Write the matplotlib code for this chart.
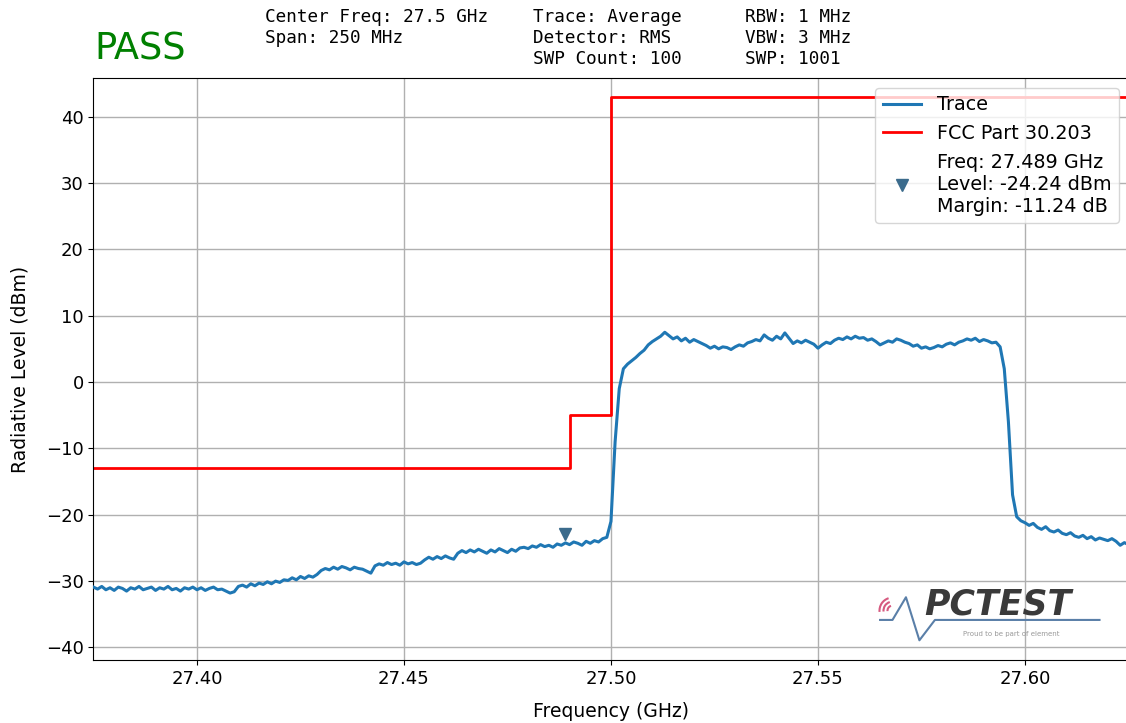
import numpy as np
import matplotlib
matplotlib.use("Agg")
from matplotlib import pyplot as plt
from matplotlib.lines import Line2D
from matplotlib.patches import Arc

# sweep settings / header text
header_cols = [
    ["Center Freq: 27.5 GHz", "Span: 250 MHz"],
    ["Trace: Average", "Detector: RMS", "SWP Count: 100"],
    ["RBW: 1 MHz", "VBW: 3 MHz", "SWP: 1001"],
]
verdict = "PASS"

# measured trace, 1 MHz step from 27.375 to 27.625 GHz (dBm)
f_start, f_stop = 27.375, 27.625
trace_dbm = [
    -30.9, -31.2, -30.8, -31.3, -31.0, -31.4, -30.9, -31.1, -31.5, -31.0,
    -31.2, -30.8, -31.3, -31.1, -30.9, -31.4, -31.0, -31.2, -30.8, -31.3,
    -31.1, -31.5, -31.0, -31.2, -30.9,
    -31.3, -31.0, -31.4, -31.1, -30.9, -31.3, -31.2, -31.5, -31.8, -31.6,
    -30.8, -30.6, -30.9, -30.4, -30.7, -30.3, -30.5, -30.1, -30.4, -30.0,
    -30.2, -29.8, -29.9, -29.5, -29.8, -29.3, -29.6, -29.2, -29.4, -29.0,
    -28.4, -28.1, -28.3, -27.9, -28.2, -27.8, -28.0, -28.3, -27.9, -28.1,
    -28.2, -28.5,
    -28.8,
    -27.7, -27.4, -27.6, -27.2, -27.5, -27.3, -27.6, -27.1, -27.4, -27.2,
    -27.5, -27.3,
    -26.8, -26.4, -26.7, -26.3, -26.6, -26.2, -26.5, -26.7,
    -25.8, -25.4, -25.7, -25.3, -25.6, -25.2, -25.5, -25.8, -25.3, -25.6,
    -25.1, -25.4, -25.7, -25.2, -25.5, -25.0,
    -24.9, -25.1, -24.7, -24.9, -24.5, -24.8, -24.6, -24.9,
    -24.4, -24.6, -24.24, -24.5, -24.1, -24.3, -24.6, -24.0,
    -24.3, -23.9, -24.1, -23.6, -23.4,
    -21.0, -9.0, -1.0, 2.0, 2.7, 3.2, 3.7, 4.3, 4.8, 5.6,
    6.1, 6.5, 6.9, 7.5, 7.0,
    6.5, 6.8, 6.2, 6.6, 6.0, 6.4, 6.1, 5.8, 5.5, 5.1,
    5.4, 5.0, 5.3, 5.2, 4.9, 5.3, 5.6, 5.4, 5.9, 6.1,
    6.4, 6.2, 7.1, 6.6, 6.3, 6.9, 6.5, 7.4, 6.6, 5.8,
    6.2, 5.9, 6.3, 6.0, 5.7, 5.1, 5.6, 6.0, 5.8, 6.3,
    6.6, 6.4, 6.8, 6.5, 6.9, 6.6, 6.7, 6.3, 6.5, 6.1,
    5.6, 5.9, 6.2, 6.0, 6.5, 6.3, 6.0, 5.8, 5.4, 5.6,
    5.1, 5.3, 5.0, 5.2, 5.5, 5.3, 5.7, 5.9, 5.6, 6.0,
    6.2, 6.5, 6.3, 6.6, 6.1, 6.4, 6.2, 5.9, 6.0, 5.3,
    2.0, -6.0, -17.0, -20.3,
    -20.9, -21.2, -21.6, -21.3, -21.9, -22.2, -21.8, -22.4, -22.6, -22.3,
    -22.8,
    -23.0, -22.7, -23.2, -23.4, -23.1, -23.6, -23.3, -23.8, -23.5, -23.7,
    -23.9, -23.6, -24.0, -24.6, -24.2, -24.5,
]
freq_ghz = np.linspace(f_start, f_stop, len(trace_dbm))

# FCC Part 30.203 limit mask (step)
limit_freq = [27.375, 27.490, 27.490, 27.500, 27.500, 27.625]
limit_dbm = [-13, -13, -5, -5, 43, 43]

# worst-case marker
mk_freq = 27.489
mk_level = -24.24
mk_margin = -11.24

fig = plt.figure(figsize=(11.26, 7.23), dpi=100)
ax = fig.add_axes([0.083, 0.087, 0.9192, 0.805])

ax.plot(freq_ghz, trace_dbm, color="#1f77b4", lw=2.2, label="Trace", zorder=3)
ax.plot(limit_freq, limit_dbm, color="red", lw=2, label="FCC Part 30.203", zorder=2)
ax.plot([mk_freq], [mk_level + 1.3], marker="v", ls="none", ms=8,
        color="#3b6b8c", zorder=4)

ax.set_xlim(f_start, f_stop)
ax.set_ylim(-41.9, 45.8)
ax.set_xticks([27.40, 27.45, 27.50, 27.55, 27.60])
ax.set_yticks(range(-40, 41, 10))
ax.grid(True, color="#b0b0b0", lw=1)
ax.tick_params(labelsize=13)
ax.set_xlabel("Frequency (GHz)", fontsize=13.5, labelpad=10)
ax.set_ylabel("Radiative Level (dBm)", fontsize=13.5, labelpad=12)

mk_handle = Line2D([], [], marker="v", ls="none", ms=8, color="#3b6b8c")
handles, labels = ax.get_legend_handles_labels()
handles.append(mk_handle)
labels.append("Freq: %.3f GHz\nLevel: %.2f dBm\nMargin: %.2f dB" % (mk_freq, mk_level, mk_margin))
ax.legend(handles, labels, loc="upper right", fontsize=13.8,
          bbox_to_anchor=(1.0, 1.0), borderaxespad=0.5)

# header
fig.text(0.084, 0.918, verdict, color="green", fontsize=26.5)
col_x = [0.235, 0.473, 0.662]
for x, rows in zip(col_x, header_cols):
    for j, row in enumerate(rows):
        fig.text(x, 0.976 - j * 0.0285, row, family="DejaVu Sans Mono",
                 fontsize=12.7, va="center")

# logo
ax.plot([0.760, 0.772, 0.785, 0.798, 0.813, 0.972],
        [0.069, 0.069, 0.108, 0.034, 0.069, 0.069],
        transform=ax.transAxes, color="#5a7fa8", lw=1.5, zorder=5)
for r in (5, 9, 13):
    ax.add_patch(Arc((0.772, 0.085), 2 * r / 1035, 2 * r / 582, theta1=100, theta2=190,
                     transform=ax.transAxes, color="#d65a80", lw=1.5, zorder=5))
ax.text(0.803, 0.079, "PCTEST", transform=ax.transAxes, fontsize=25,
        fontweight="bold", fontstyle="italic", color="#3a3a3a", zorder=5)
ax.text(0.84, 0.042, "Proud to be part of element", transform=ax.transAxes,
        fontsize=5, color="#999999", zorder=5)

fig.savefig("out.png", dpi=100)
